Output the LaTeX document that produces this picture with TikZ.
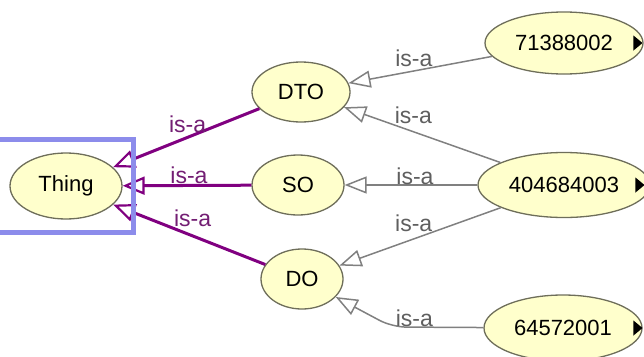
\documentclass[tikz,border=0pt]{standalone}
\usepackage{fontspec}
\setmainfont{Liberation Sans}
\usetikzlibrary{shapes.geometric,arrows.meta}

\definecolor{nodefill}{RGB}{255,255,204}
\definecolor{nodeline}{RGB}{110,110,90}
\definecolor{isapurple}{RGB}{128,0,128}
\definecolor{isagray}{RGB}{128,128,128}
\definecolor{lblgray}{RGB}{95,95,95}
\definecolor{lblpurple}{RGB}{115,30,115}
\definecolor{selblue}{RGB}{140,140,235}

\begin{document}
\begin{tikzpicture}[x=1pt,y=-1pt,
  concept/.style={ellipse, draw=nodeline, line width=1.3pt, fill=nodefill,
    inner sep=0pt, font=\fontsize{22}{26}\selectfont},
  marker/.style={isosceles triangle, isosceles triangle stretches, fill=black,
    inner sep=0pt, minimum width=15pt, minimum height=9pt},
  isa/.style={draw=isagray, line width=1.5pt,
    -{Triangle[open, length=22pt, width=17pt]}},
  sub/.style={draw=isapurple, line width=3pt,
    -{Triangle[open, length=22pt, width=18pt, line width=2.2pt]}},
  glbl/.style={text=lblgray, inner sep=0pt, font=\fontsize{23}{27}\selectfont},
  plbl/.style={text=lblpurple, inner sep=0pt, font=\fontsize{23}{27}\selectfont},
  selbox/.style={rectangle, draw=selblue, line width=5pt, inner sep=0pt}
]
\useasboundingbox (0,0) rectangle (644,356);
\clip (0,0) rectangle (644,356);

% concepts
\node[concept, minimum width=112pt, minimum height=66pt] (thing) at (66,186) {Thing};
\node[concept, minimum width=98pt, minimum height=60pt] (dto) at (301,92) {DTO};
\node[concept, minimum width=92pt, minimum height=60pt] (so) at (298,185) {SO};
\node[concept, minimum width=82pt, minimum height=60pt] (do) at (302,279) {DO};
\node[concept, minimum width=158pt, minimum height=62pt] (c71) at (564,43) {71388002};
\node[concept, minimum width=172pt, minimum height=65pt] (c404) at (564,185) {404684003};
\node[concept, minimum width=158pt, minimum height=66pt] (c645) at (563,328) {64572001};

% expand markers
\node[marker] (m71) at ([xshift=73pt]c71.center) {};
\node[marker] (m404) at ([xshift=75pt]c404.center) {};
\node[marker] (m645) at ([xshift=74pt]c645.center) {};

% is-a links between the numbered concepts and the middle layer
\draw[isa] (c71) -- node[glbl, pos=0.41, anchor=south east] {is-a} (dto);
\draw[isa] (c404) -- node[glbl, pos=0.68, anchor=south west] {is-a} (dto);
\draw[isa] (c404) -- node[glbl, pos=0.47, anchor=south] {is-a} (so);
\draw[isa] (c404) -- node[glbl, pos=0.42, anchor=south east] {is-a} (do);
\coordinate (bend) at (392,327);
\draw[isa, rounded corners=14pt] (c645) -- (bend)
  node[glbl, anchor=south west, xshift=3pt] {is-a} -- (do);

% is-a links up to Thing
\draw[sub] (dto) -- node[plbl, pos=0.49, anchor=south, yshift=3pt] {is-a} (thing);
\draw[sub] (so) -- node[plbl, pos=0.485, anchor=south] {is-a} (thing);
\draw[sub] (do) -- node[plbl, pos=0.61, anchor=south west] {is-a} (thing);

% selection frame around Thing
\node[selbox, minimum width=143pt, minimum height=93pt] (sel) at (61.5,185.5) {};
\end{tikzpicture}
\end{document}
